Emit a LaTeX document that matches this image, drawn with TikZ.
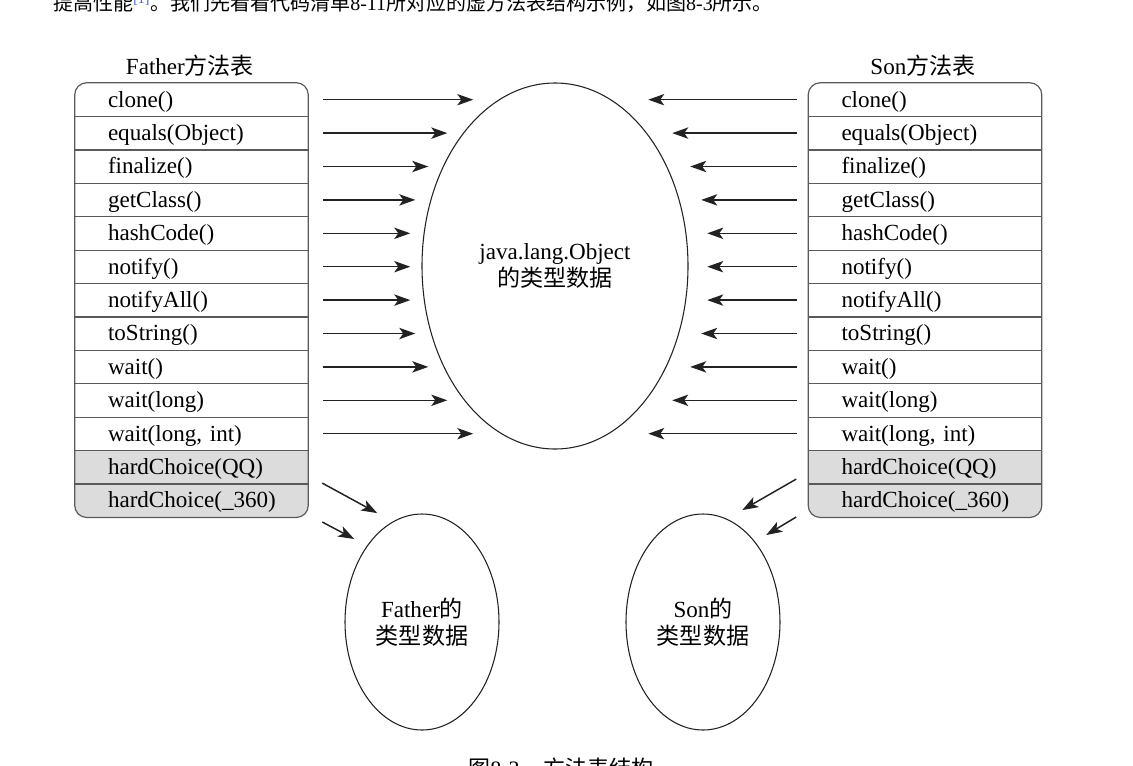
\documentclass[tikz,border=0pt]{standalone}
\usepackage{fontspec}
\setmainfont{Liberation Serif}
\newfontfamily\cjk{Noto Sans CJK SC}
\usetikzlibrary{arrows.meta,shapes.geometric}
\pgfdeclarelayer{background}
\pgfsetlayers{background,main}
\definecolor{linec}{HTML}{222222}
\definecolor{tabc}{HTML}{5A5A5A}
\definecolor{rowgray}{HTML}{DCDCDC}
\definecolor{refblue}{HTML}{3A66C8}
\begin{document}
\begin{tikzpicture}[x=0.75pt,y=-0.75pt,
  txt/.style={font=\fontsize{17.3}{20}\selectfont},
  rowbox/.style={rectangle, inner sep=0pt, minimum width=174.75pt, minimum height=25.05pt,
    text width=174.75pt, text height=13pt, text depth=2pt, align=left, txt},
  tabline/.style={draw=tabc, line width=0.9pt},
  oval/.style={draw=linec, line width=0.8pt, ellipse, inner sep=0pt, align=center, txt},
  arr/.style={draw=linec, line width=1.1pt, -{Stealth[length=12pt,width=8.5pt,inset=3pt]}}]
\useasboundingbox (0,0) rectangle (1133,765);

% running text (clipped by page, as in the reference)
\node[anchor=base west, inner sep=0pt, font=\fontsize{15}{18}\selectfont] (toptext) at (53,10)
  {{\cjk 提高性能}\textsuperscript{\color{refblue}[1]}{\cjk 。我们先看看代码清单}8-11{\cjk 所对应的虚方法表结构示例，如图}8-3{\cjk 所示。}};
\node[anchor=base west, inner sep=0pt, font=\fontsize{16.5}{20}\selectfont] (caption) at (468,776)
  {{\cjk 图}8-3\hspace{1.1em}{\cjk 方法表结构}};

% titles
\node[txt] (ftitle) at (190,66) {Father{\cjk 方法表}};
\node[txt] (stitle) at (923,66) {Son{\cjk 方法表}};

% table rows
\foreach \t [count=\i] in {clone(), equals(Object), finalize(), getClass(), hashCode(), notify(),
  notifyAll(), toString(), wait(), wait(long), {wait(long, int)}, hardChoice(QQ), hardChoice(\_360)} {
  \node[rowbox] (f\i) at (191.5, {83+33.4*(\i-0.5)}) {\hspace*{24.75pt}\t};
  \node[rowbox] (s\i) at (925, {83+33.4*(\i-0.5)}) {\hspace*{24.75pt}\t};
}

% shading of the last two rows
\begin{pgfonlayer}{background}
  \begin{scope}
    \clip[rounded corners=9pt] (f1.north west) rectangle (f13.south east);
    \fill[rowgray] (f12.north west) rectangle (f13.south east);
  \end{scope}
  \begin{scope}
    \clip[rounded corners=9pt] (s1.north west) rectangle (s13.south east);
    \fill[rowgray] (s12.north west) rectangle (s13.south east);
  \end{scope}
\end{pgfonlayer}

% separators and outlines
\foreach \i in {1,...,12} {
  \draw[tabline] (f\i.south west) -- (f\i.south east);
  \draw[tabline] (s\i.south west) -- (s\i.south east);
}
\draw[tabline, rounded corners=9pt] (f1.north west) rectangle (f13.south east);
\draw[tabline, rounded corners=9pt] (s1.north west) rectangle (s13.south east);

% type data ellipses
\node[oval, minimum width=199.5pt, minimum height=274.5pt] (obj) at (555,266)
  {java.lang.Object\\{\cjk 的类型数据}};
\node[oval, minimum width=115.5pt, minimum height=162pt] (fdata) at (422,622)
  {Father{\cjk 的}\\{\cjk 类型数据}};
\node[oval, minimum width=115.5pt, minimum height=162pt] (sdata) at (703,622)
  {Son{\cjk 的}\\{\cjk 类型数据}};

% arrows to java.lang.Object
\foreach \i/\l in {1/150,2/124,3/105,4/92,5/87,6/87,7/87,8/92,9/105,10/124,11/150}
  \draw[arr] ([xshift=11.25pt]f\i.east) -- ++(\l,0);
\foreach \i/\l in {1/149,2/125,3/107,4/96,5/90,6/90,7/90,8/96,9/107,10/125,11/149}
  \draw[arr] ([xshift=-8.25pt]s\i.west) -- ++(-\l,0);

% arrows to own type data
\draw[arr] ([shift={(14,16)}]f12.east) -- ++(55,30);
\draw[arr] ([shift={(14,21.5)}]f13.east) -- ++(32,17);
\draw[arr] ([shift={(-12,12)}]s12.west) -- ++(-54,31);
\draw[arr] ([shift={(-12,16.5)}]s13.west) -- ++(-30,18);
\end{tikzpicture}
\end{document}
